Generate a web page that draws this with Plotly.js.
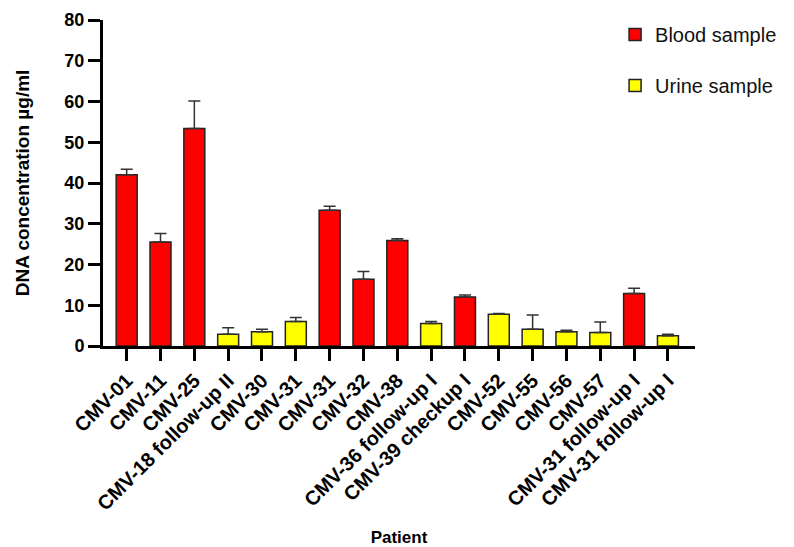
<!DOCTYPE html>
<html>
<head>
<meta charset="utf-8">
<script src="https://cdn.plot.ly/plotly-3.0.1.min.js"></script>
<style>html,body{margin:0;padding:0;background:#fff;}#chart{width:794px;height:547px;}</style>
</head>
<body>
<div id="chart"></div>
<script>
const categories = ["CMV-01","CMV-11","CMV-25","CMV-18 follow-up II","CMV-30","CMV-31","CMV-31","CMV-32","CMV-38","CMV-36 follow-up I","CMV-39 checkup I","CMV-52","CMV-55","CMV-56","CMV-57","CMV-31 follow-up I","CMV-31 follow-up I"];
const sampleType = ["B","B","B","U","U","U","B","B","B","U","B","U","U","U","U","B","U"];
const values = [42.0,25.5,53.4,2.9,3.5,6.0,33.3,16.4,25.9,5.5,12.0,7.8,4.1,3.5,3.3,12.9,2.5];
const errors = [1.4,2.1,6.7,1.6,0.6,1.0,1.0,1.9,0.4,0.5,0.5,0.2,3.5,0.35,2.6,1.3,0.4];
const seriesNames = {B: "Blood sample", U: "Urine sample"};
const seriesColors = {B: "#ff0000", U: "#ffff00"};

function makeTrace(type) {
  const xs = [], ys = [], es = [], zs = [];
  categories.forEach((c, i) => {
    if (sampleType[i] === type) { xs.push(i); ys.push(values[i]); es.push(errors[i]); zs.push(0); }
  });
  return {
    type: "bar", x: xs, y: ys, name: seriesNames[type], legendgroup: type,
    width: 0.62,
    marker: {color: seriesColors[type], line: {color: "#222", width: 1.5}},
    error_y: {type: "data", symmetric: false, array: es, arrayminus: zs, color: "#333", thickness: 1.5, width: 6}
  };
}
const traces = [makeTrace("B"), makeTrace("U")];

const layout = {
  width: 794, height: 547,
  margin: {l: 103, r: 94, t: 20, b: 201},
  paper_bgcolor: "#fff", plot_bgcolor: "#fff",
  font: {family: "Liberation Sans, Arial, sans-serif", color: "#000"},
  barmode: "overlay",
  showlegend: true,
  legend: {x: 0.865, xanchor: "left", y: 1.015, yanchor: "top", font: {size: 20, color: "#111"}, tracegroupgap: 22, traceorder: "grouped", bgcolor: "rgba(0,0,0,0)"},
  xaxis: {
    range: [-0.7, 16.8],
    tickmode: "array", tickvals: categories.map((c, i) => i), ticktext: categories,
    tickangle: -45, tickfont: {size: 20, weight: "bold"},
    ticks: "outside", ticklen: 12, tickwidth: 3, tickcolor: "#000",
    showline: true, linecolor: "#000", linewidth: 3, showgrid: false, zeroline: false,
    title: {text: "<b>Patient</b>", font: {size: 17}, standoff: 18}
  },
  yaxis: {
    range: [0, 80], tickvals: [0,10,20,30,40,50,60,70,80],
    tickfont: {size: 18, weight: "bold"},
    ticks: "outside", ticklen: 12, tickwidth: 3, tickcolor: "#000",
    showline: true, linecolor: "#000", linewidth: 3, showgrid: false, zeroline: false,
    title: {text: "<b>DNA concentration µg/ml</b>", font: {size: 19}, standoff: 30}
  }
};
Plotly.newPlot("chart", traces, layout, {displayModeBar: false, staticPlot: true});
</script>
</body>
</html>
